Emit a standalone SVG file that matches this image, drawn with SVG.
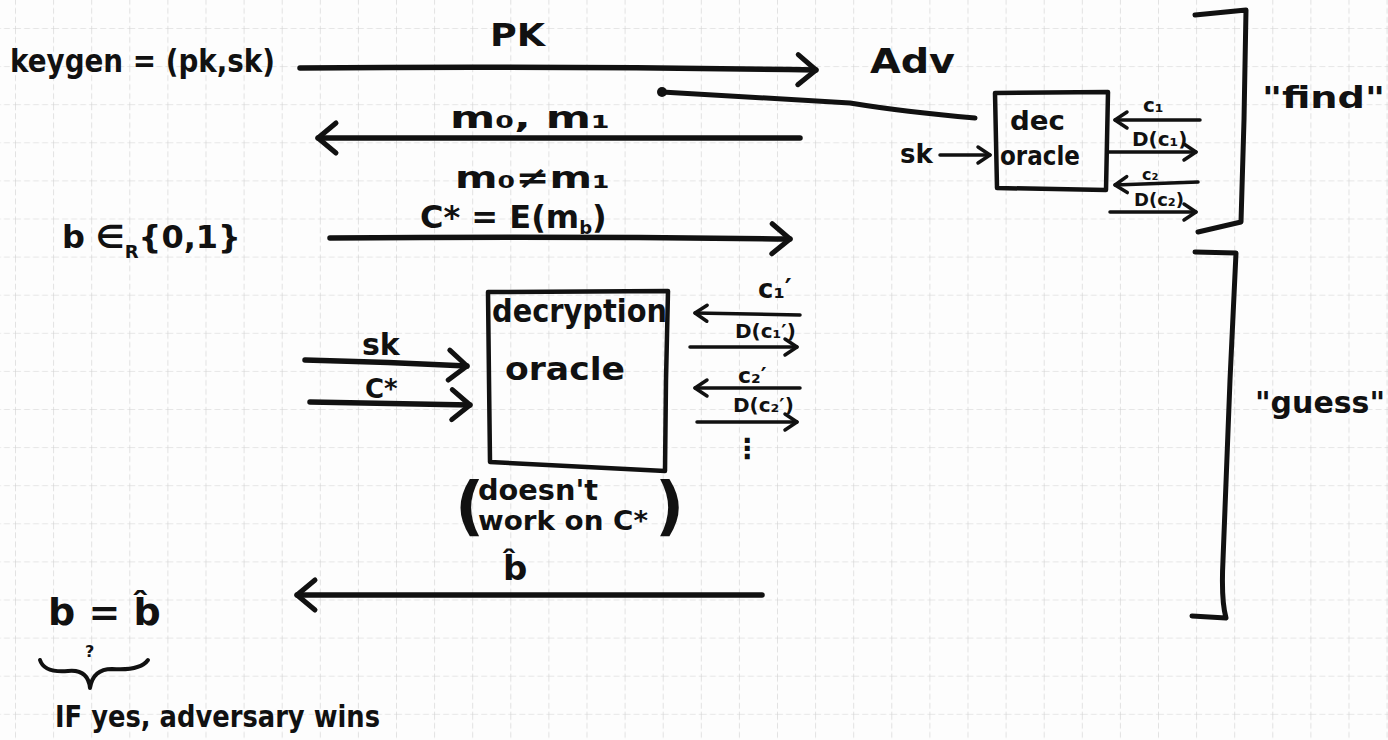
<svg xmlns="http://www.w3.org/2000/svg" width="1388" height="740" viewBox="0 0 1388 740">
<defs>
<pattern id="grid" x="15" y="28" width="38.1" height="38.1" patternUnits="userSpaceOnUse">
<path d="M0,0 H38.1 M0,0 V38.1" fill="none" stroke="#d0d0d0" stroke-width="1.2" stroke-dasharray="6,3"/>
</pattern>
<marker id="ahBig" viewBox="0 0 26 38" refX="22" refY="19" markerWidth="26" markerHeight="38" markerUnits="userSpaceOnUse" orient="auto">
<path d="M4,4 L22,19 L4,34" fill="none" stroke="#111" stroke-width="5" stroke-linecap="round" stroke-linejoin="round"/>
</marker>
<marker id="ahSmall" viewBox="0 0 18 22" refX="15" refY="11" markerWidth="18" markerHeight="22" markerUnits="userSpaceOnUse" orient="auto">
<path d="M3,3 L15,11 L3,19" fill="none" stroke="#111" stroke-width="3.5" stroke-linecap="round" stroke-linejoin="round"/>
</marker>
</defs>
<style>
text{font-family:"DejaVu Sans","Liberation Sans",sans-serif;fill:#111;font-weight:bold}
.big{font-size:32px}
.mid{font-size:26px}
.sm{font-size:20px}
.ink{fill:none;stroke:#111;stroke-linecap:round;stroke-linejoin:round}
.arrow{stroke-width:5.5;marker-end:url(#ahBig)}
.arrowS{stroke-width:3.5;marker-end:url(#ahSmall)}
.box{stroke-width:4.5}
</style>
<rect width="1388" height="740" fill="#fdfdfd"/>
<rect width="1388" height="740" fill="url(#grid)"/>

<g id="challenger">
<text class="big" x="10" y="72" textLength="265" lengthAdjust="spacingAndGlyphs">keygen = (pk,sk)</text>
<text class="big" x="62" y="248" font-size="34">b ∈<tspan font-size="18" dy="10">R</tspan><tspan dy="-10">{0,1}</tspan></text>
<text x="48" y="625" font-size="38">b = b̂</text>
<text x="85" y="657" font-size="16">?</text>
<path class="ink" stroke-width="4" d="M40,660 Q44,673 68,671 Q88,669 90,688 Q93,669 112,669 Q140,671 148,660"/>
<text x="55" y="727" font-size="30" textLength="325" lengthAdjust="spacingAndGlyphs">IF yes, adversary wins</text>
</g>

<g id="adv">
<text x="870" y="73" font-size="34" textLength="85" lengthAdjust="spacingAndGlyphs">Adv</text>
</g>

<g id="dec-oracle">
<path class="ink box" d="M995,93 L1108,92 L1106,190 L997,188 Z"/>
<text class="mid" x="1010" y="130" textLength="55" lengthAdjust="spacingAndGlyphs">dec</text>
<text class="mid" x="1000" y="165" textLength="80" lengthAdjust="spacingAndGlyphs">oracle</text>
</g>

<g id="decryption-oracle">
<path class="ink box" d="M488,292 L668,291 L666,380 L665,471 L490,462 L489,380 Z"/>
<text x="492" y="322" font-size="32" textLength="175" lengthAdjust="spacingAndGlyphs">decryption</text>
<text x="505" y="380" font-size="32" textLength="120" lengthAdjust="spacingAndGlyphs">oracle</text>
<text x="455" y="528" font-size="64" font-weight="normal">(</text>
<text x="478" y="500" font-size="28" textLength="120" lengthAdjust="spacingAndGlyphs">doesn't</text>
<text x="478" y="530" font-size="26" textLength="170" lengthAdjust="spacingAndGlyphs">work on C*</text>
<text x="655" y="528" font-size="64" font-weight="normal">)</text>
</g>

<g id="find-bracket">
<path class="ink" stroke-width="5" d="M1195,15 L1246,10 L1244,120 L1241,222 L1198,232"/>
<text x="1262" y="108" font-size="30" textLength="123" lengthAdjust="spacingAndGlyphs">"find"</text>
</g>

<g id="guess-bracket">
<path class="ink" stroke-width="5" d="M1195,252 L1236,253 Q1234,300 1230,380 L1223,560 Q1221,600 1226,618 L1192,616"/>
<text x="1255" y="413" font-size="30" textLength="130" lengthAdjust="spacingAndGlyphs">"guess"</text>
</g>

<g id="connectors">
<path class="ink arrow" d="M300,68 Q560,66 816,70"/>
<text x="490" y="46" font-size="32" textLength="55" lengthAdjust="spacingAndGlyphs">PK</text>

<path class="ink" stroke-width="5" d="M975,118 Q905,112 850,103 L662,92"/>
<circle cx="662" cy="92" r="5" fill="#111"/>

<path class="ink arrow" d="M800,138 L318,138"/>
<text x="450" y="128" font-size="30" textLength="160" lengthAdjust="spacingAndGlyphs">m₀, m₁</text>
<text x="455" y="188" font-size="30" textLength="155" lengthAdjust="spacingAndGlyphs">m₀≠m₁</text>

<text x="420" y="228" font-size="32">C* = E(m<tspan font-size="18" dy="6">b</tspan><tspan dy="-6">)</tspan></text>
<path class="ink arrow" d="M330,238 Q560,236 790,239"/>

<text class="mid" x="900" y="163">sk</text>
<path class="ink arrowS" d="M940,155 L990,155"/>

<text class="sm" x="1143" y="112">c₁</text>
<path class="ink arrowS" d="M1200,120 L1115,120"/>
<text class="sm" x="1132" y="146">D(c₁)</text>
<path class="ink arrowS" d="M1108,152 L1196,152"/>
<text x="1142" y="180" font-size="16">c₂</text>
<path class="ink arrowS" d="M1198,182 L1115,185"/>
<text x="1134" y="206" font-size="18">D(c₂)</text>
<path class="ink arrowS" d="M1110,212 L1196,212"/>

<text x="362" y="355" font-size="30">sk</text>
<path class="ink arrow" d="M305,360 Q390,362 467,366"/>
<text x="365" y="398" font-size="26">C*</text>
<path class="ink arrow" d="M310,402 L470,405"/>

<text x="758" y="298" font-size="26">c₁′</text>
<path class="ink arrowS" d="M800,315 L695,313"/>
<text x="735" y="338" font-size="20">D(c₁′)</text>
<path class="ink arrowS" d="M690,347 L797,347"/>
<text x="738" y="383" font-size="22">c₂′</text>
<path class="ink arrowS" d="M800,388 L695,388"/>
<text x="733" y="412" font-size="20">D(c₂′)</text>
<path class="ink arrowS" d="M697,422 L797,422"/>
<text x="733" y="458" font-size="28">⋮</text>

<text x="503" y="580" font-size="34">b̂</text>
<path class="ink arrow" d="M762,595 L297,595"/>
</g>
</svg>
